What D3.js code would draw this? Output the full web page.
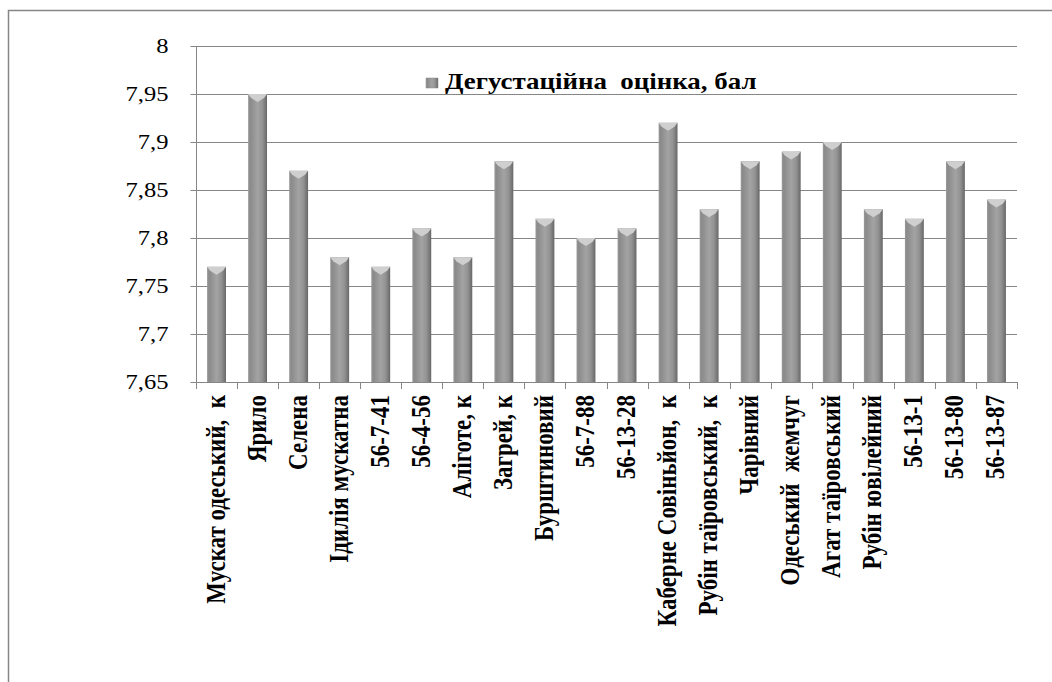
<!DOCTYPE html>
<html>
<head>
<meta charset="utf-8">
<script src="https://cdn.jsdelivr.net/npm/d3@7"></script>
<style>
    body { margin: 0; background: #fff; }
</style>
</head>
<body>
<svg id="chart" width="1052" height="682"></svg>
<script>
var categories = ['Мускат одеський,  к', 'Ярило', 'Селена', 'Ідилія мускатна', '56-7-41', '56-4-56',
    'Аліготе, к', 'Загрей, к', 'Бурштиновий', '56-7-88', '56-13-28', 'Каберне Совіньйон,  к',
    'Рубін таїровський,  к', 'Чарівний', 'Одеський  жемчуг', 'Агат таїровський', 'Рубін ювілейний',
    '56-13-1', '56-13-80', '56-13-87'];
var values = [7.77, 7.95, 7.87, 7.78, 7.77, 7.81, 7.78, 7.88, 7.82, 7.80, 7.81, 7.92, 7.83, 7.88,
    7.89, 7.90, 7.83, 7.82, 7.88, 7.84];
var yTicks = [7.65, 7.7, 7.75, 7.8, 7.85, 7.9, 7.95, 8];
var seriesName = 'Дегустаційна  оцінка, бал';

(function()
{
    var FONT = 'Liberation Serif', STRETCH = 1.17;
    var svg = d3.select('#chart'),
        left = 196, right = 1017, top = 46, bottom = 382;

    // outer chart frame (runs off the page on right and bottom)
    svg.append('rect').attr('x', 8.5).attr('y', 10.5).attr('width', 1100).attr('height', 700)
        .attr('fill', 'none').attr('stroke', '#868686').attr('stroke-width', 1.5);

    var x = d3.scaleBand().domain(categories).range([left, right]).paddingInner(0.54).paddingOuter(0.27),
        y = d3.scaleLinear().domain([7.65, 8]).range([bottom, top]);

    var defs = svg.append('defs');
    var grad = defs.append('linearGradient').attr('id', 'barGrad').attr('x1', 0).attr('x2', 1).attr('y1', 0).attr('y2', 0);
    [[0, '#9a9a9a'], [0.1, '#8a8a8a'], [0.25, '#939393'], [0.5, '#a3a3a3'], [0.75, '#939393'], [0.9, '#7a7a7a'], [1, '#666']]
        .forEach(function(s)
        {
            grad.append('stop').attr('offset', s[0]).attr('stop-color', s[1]);
        });

    // grid lines
    svg.append('g').selectAll('line').data(yTicks).enter().append('line')
        .attr('x1', left).attr('x2', right)
        .attr('y1', function(d) { return Math.round(y(d)) + 0.5; })
        .attr('y2', function(d) { return Math.round(y(d)) + 0.5; })
        .attr('stroke', '#868686').attr('stroke-width', 1);

    // y axis
    var yAxis = svg.append('g').attr('transform', 'translate(' + (left + 0.5) + ',0)')
        .call(d3.axisLeft(y).tickValues(yTicks).tickSize(6)
            .tickFormat(function(d) { return String(d).replace('.', ','); }));
    yAxis.select('.domain').attr('stroke', '#868686').attr('d', 'M0,' + top + 'V' + bottom);
    yAxis.selectAll('.tick line').attr('stroke', '#868686').attr('x2', -6);
    yAxis.selectAll('text').attr('fill', '#000').attr('x', 0)
        .attr('transform', 'translate(-28,0) scale(' + STRETCH + ',1)')
        .style('font-family', FONT).style('font-size', '21px');

    // x axis tick marks at category boundaries
    var step = x.step();
    var bounds = d3.range(categories.length + 1).map(function(i) { return left + i * step; });
    svg.append('g').selectAll('line').data(bounds).enter().append('line')
        .attr('x1', function(d) { return Math.round(d) + 0.5; })
        .attr('x2', function(d) { return Math.round(d) + 0.5; })
        .attr('y1', bottom).attr('y2', bottom + 7)
        .attr('stroke', '#868686');
    svg.append('line').attr('x1', left).attr('x2', right).attr('y1', bottom + 0.5).attr('y2', bottom + 0.5)
        .attr('stroke', '#868686');

    // bars
    var bars = svg.append('g').selectAll('g').data(values).enter().append('g');
    bars.append('rect')
        .attr('x', function(d, i) { return x(categories[i]); })
        .attr('y', function(d) { return y(d); })
        .attr('width', x.bandwidth())
        .attr('height', function(d) { return bottom - y(d); })
        .attr('fill', 'url(#barGrad)');
    bars.append('path')
        .attr('d', function(d, i)
        {
            var x0 = x(categories[i]), w = x.bandwidth(), y0 = y(d);
            return 'M' + x0 + ',' + y0 + 'L' + (x0 + w) + ',' + y0 + 'L' + (x0 + w - 3) + ',' + (y0 + 4) +
                'L' + (x0 + w / 2) + ',' + (y0 + 8) + 'L' + (x0 + 3) + ',' + (y0 + 4) + 'Z';
        })
        .attr('fill', '#cfcfcf');

    // category labels
    svg.append('g').selectAll('text').data(categories).enter().append('text')
        .attr('transform', function(d)
        {
            return 'translate(' + (x(d) + x.bandwidth() / 2 + 8) + ',' + (bottom + 13) + ') scale(' + STRETCH + ',1) rotate(-90)';
        })
        .attr('text-anchor', 'end')
        .style('font-family', FONT).style('font-size', '23px').style('font-weight', 'bold')
        .style('white-space', 'pre')
        .text(function(d) { return d; });

    // legend
    var legend = svg.append('g');
    legend.append('rect').attr('x', 426).attr('y', 78).attr('width', 12).attr('height', 10).attr('fill', 'url(#barGrad)')
        .attr('stroke', '#888').attr('stroke-width', 0.5);
    legend.append('text').attr('transform', 'translate(445,89) scale(' + STRETCH + ',1)')
        .style('font-family', FONT).style('font-size', '23px').style('font-weight', 'bold')
        .style('white-space', 'pre')
        .text(seriesName);
})();
</script>
</body>
</html>
